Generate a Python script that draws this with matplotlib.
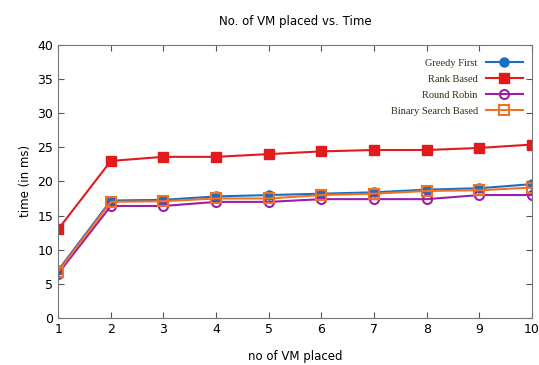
import matplotlib.pyplot as plt

vms = [1, 2, 3, 4, 5, 6, 7, 8, 9, 10]
greedy_first = [7.0, 17.2, 17.3, 17.8, 18.0, 18.2, 18.4, 18.8, 19.0, 19.6]
rank_based = [13.0, 23.0, 23.6, 23.6, 24.0, 24.4, 24.6, 24.6, 24.9, 25.4]
round_robin = [6.5, 16.4, 16.4, 17.0, 17.0, 17.4, 17.4, 17.4, 18.0, 18.0]
binary_search = [6.8, 17.0, 17.1, 17.5, 17.5, 18.0, 18.2, 18.6, 18.7, 19.1]

fig = plt.figure(figsize=(5.39, 3.65), dpi=100)
ax = fig.add_axes([0.108, 0.129, 0.879, 0.748])

ax.plot(vms, greedy_first, color='#1a6fbe', marker='o', markersize=6.5, lw=1.5, label='Greedy First')
ax.plot(vms, rank_based, color='#e31a1c', marker='s', markersize=6.5, lw=1.5, label='Rank Based')
ax.plot(vms, round_robin, color='#9b1fa6', marker='o', markersize=6.5, mfc='none', mew=1.5, lw=1.5, label='Round Robin')
ax.plot(vms, binary_search, color='#f07025', marker='s', markersize=6.5, mfc='none', mew=1.5, lw=1.5, label='Binary Search Based')

ax.set_xlim(1, 10)
ax.set_ylim(0, 40)
ax.set_xticks(vms)
ax.set_yticks(range(0, 41, 5))
ax.tick_params(direction='in', top=True, right=True, labelsize=9, length=4, color='#555555')
for s in ax.spines.values():
    s.set_color('#777777')

ax.set_title('No. of VM placed vs. Time', fontsize=8.5, pad=14)
ax.set_xlabel('no of VM placed', fontsize=8.5, labelpad=10)
ax.set_ylabel('time (in ms)', fontsize=8.5)

leg = ax.legend(loc='upper right', frameon=False, markerfirst=False, handlelength=3.5,
                prop={'family': 'Liberation Serif', 'size': 7.5}, labelspacing=0.65,
                bbox_to_anchor=(1.0, 0.985))
for t in leg.get_texts():
    t.set_color('#3a2a10')

fig.savefig('out.png', dpi=100)
